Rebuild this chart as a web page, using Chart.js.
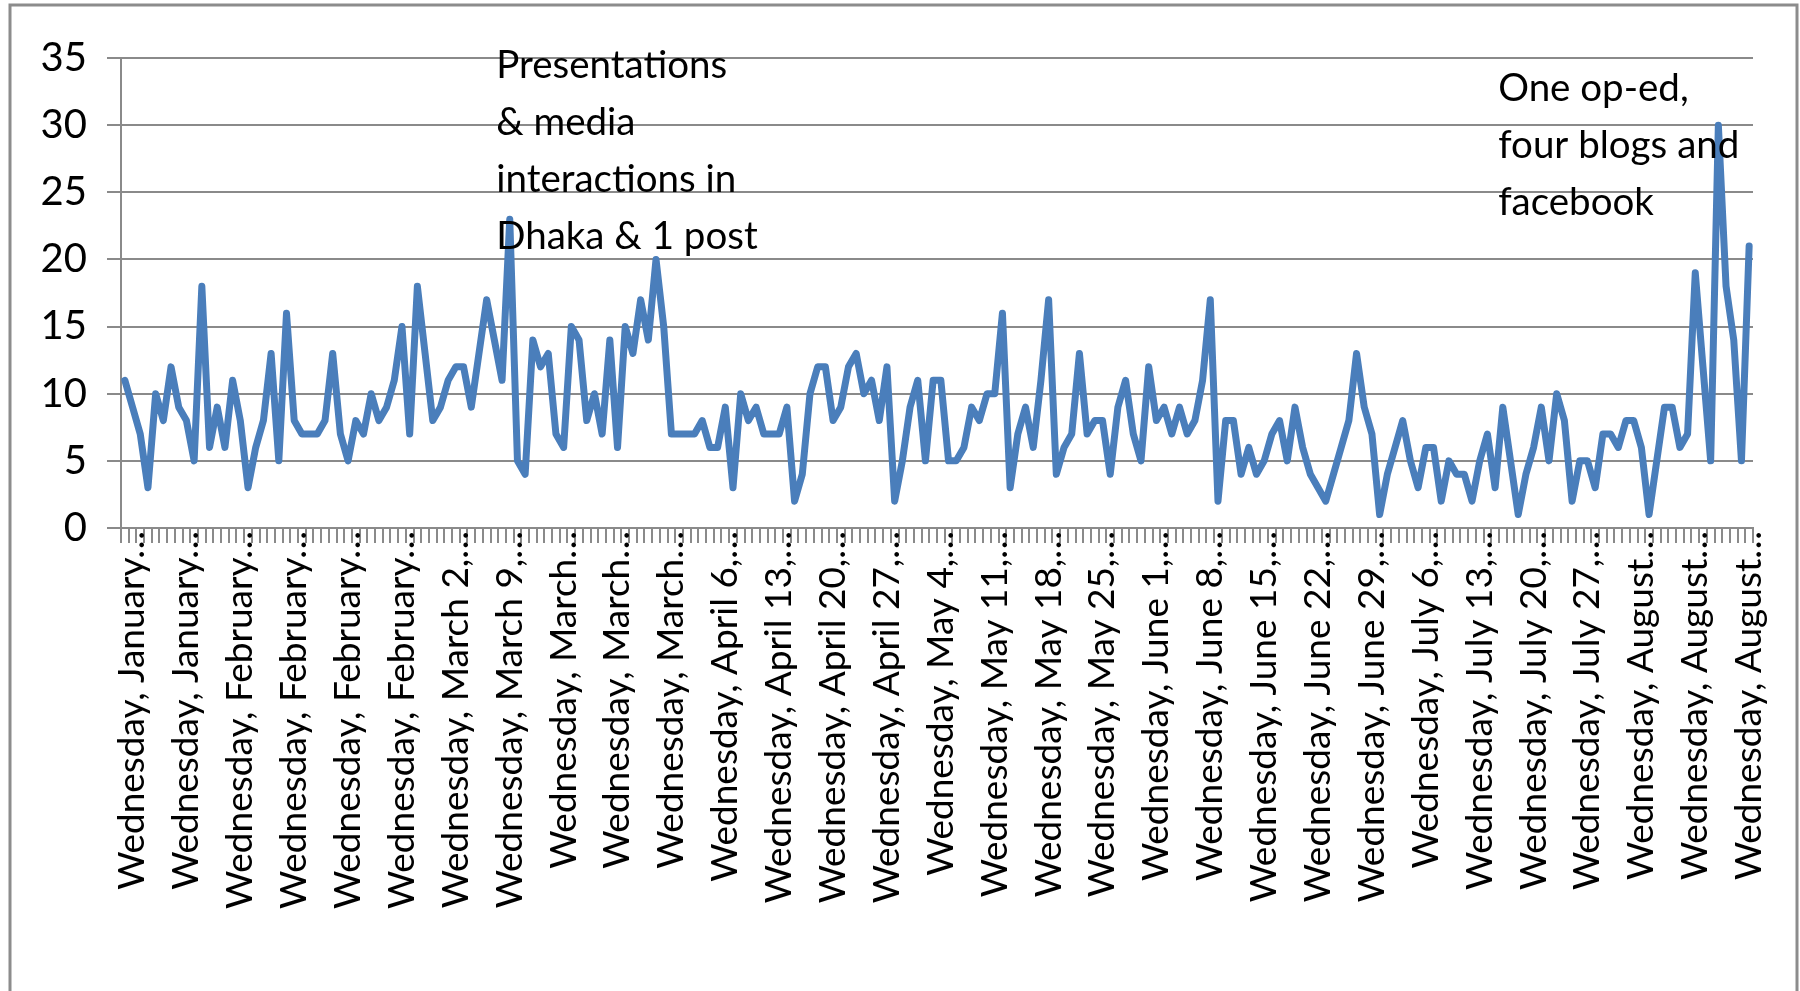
<!DOCTYPE html>
<html>
<head>
<meta charset="utf-8">
<script src="https://cdn.jsdelivr.net/npm/chart.js@4/dist/chart.umd.min.js"></script>
<style>
  html, body { margin: 0; padding: 0; background: #fff; }
  canvas { display: block; }
</style>
</head>
<body>
<canvas id="mentionsChart" width="1800" height="991"></canvas>
<script>
// one point per day, Tuesday 18 Jan 2011 .. Wednesday 17 Aug 2011
const startDay = new Date(2011, 0, 18);
const mentions = [
  11, 9, 7, 3, 10, 8, 12, 9, 8, 5,
  18, 6, 9, 6, 11, 8, 3, 6, 8, 13,
  5, 16, 8, 7, 7, 7, 8, 13, 7, 5,
  8, 7, 10, 8, 9, 11, 15, 7, 18, 13,
  8, 9, 11, 12, 12, 9, 13, 17, 14, 11,
  23, 5, 4, 14, 12, 13, 7, 6, 15, 14,
  8, 10, 7, 14, 6, 15, 13, 17, 14, 20,
  15, 7, 7, 7, 7, 8, 6, 6, 9, 3,
  10, 8, 9, 7, 7, 7, 9, 2, 4, 10,
  12, 12, 8, 9, 12, 13, 10, 11, 8, 12,
  2, 5, 9, 11, 5, 11, 11, 5, 5, 6,
  9, 8, 10, 10, 16, 3, 7, 9, 6, 11,
  17, 4, 6, 7, 13, 7, 8, 8, 4, 9,
  11, 7, 5, 12, 8, 9, 7, 9, 7, 8,
  11, 17, 2, 8, 8, 4, 6, 4, 5, 7,
  8, 5, 9, 6, 4, 3, 2, 4, 6, 8,
  13, 9, 7, 1, 4, 6, 8, 5, 3, 6,
  6, 2, 5, 4, 4, 2, 5, 7, 3, 9,
  5, 1, 4, 6, 9, 5, 10, 8, 2, 5,
  5, 3, 7, 7, 6, 8, 8, 6, 1, 5,
  9, 9, 6, 7, 19, 12, 5, 30, 18, 14,
  5, 21
];

// labels as Excel cut them, one every Wednesday
const weekLabels = [
  'Wednesday, January…', 'Wednesday, January…',
  'Wednesday, February…', 'Wednesday, February…', 'Wednesday, February…', 'Wednesday, February…',
  'Wednesday, March 2,…', 'Wednesday, March 9,…', 'Wednesday, March…', 'Wednesday, March…', 'Wednesday, March…',
  'Wednesday, April 6,…', 'Wednesday, April 13,…', 'Wednesday, April 20,…', 'Wednesday, April 27,…',
  'Wednesday, May 4,…', 'Wednesday, May 11,…', 'Wednesday, May 18,…', 'Wednesday, May 25,…',
  'Wednesday, June 1,…', 'Wednesday, June 8,…', 'Wednesday, June 15,…', 'Wednesday, June 22,…', 'Wednesday, June 29,…',
  'Wednesday, July 6,…', 'Wednesday, July 13,…', 'Wednesday, July 20,…', 'Wednesday, July 27,…',
  'Wednesday, August…', 'Wednesday, August…', 'Wednesday, August…'
];
const yTicks = [0, 5, 10, 15, 20, 25, 30, 35];

const noteDhaka = ['Presentations', '& media', 'interactions in', 'Dhaka & 1 post'];
const noteOped = ['One op-ed,', 'four blogs and', 'facebook'];

const days = mentions.map((_, i) => {
  const d = new Date(startDay);
  d.setDate(d.getDate() + i);
  return d.toLocaleDateString('en-US', { weekday: 'long', year: 'numeric', month: 'long', day: 'numeric' });
});

const gridGrey = '#8a8a8a';

const frame = {
  id: 'frame',
  beforeDraw(chart) {
    const ctx = chart.ctx;
    ctx.save();
    ctx.fillStyle = '#fff';
    ctx.fillRect(0, 0, chart.width, chart.height);
    ctx.strokeStyle = '#8c8c8c';
    ctx.lineWidth = 3;
    ctx.strokeRect(10, 5, chart.width - 13, chart.height + 20);
    ctx.restore();
  }
};

const notes = {
  id: 'notes',
  afterDatasetsDraw(chart) {
    const { ctx, scales: { x, y } } = chart;
    const place = [
      { lines: noteDhaka, at: 48.25, top: 33.5 },
      { lines: noteOped, at: 178.4, top: 31.8 }
    ];
    ctx.save();
    ctx.font = '38.5px Lato';
    ctx.fillStyle = '#000';
    ctx.textBaseline = 'alphabetic';
    place.forEach(n => {
      const left = x.getPixelForValue(n.at);
      const base = y.getPixelForValue(n.top);
      n.lines.forEach((t, k) => ctx.fillText(t, left, base + k * 57));
    });
    ctx.restore();
  }
};

new Chart(document.getElementById('mentionsChart'), {
  type: 'line',
  data: {
    labels: days,
    datasets: [{
      data: mentions,
      borderColor: '#4a7ebb',
      borderWidth: 7,
      borderJoinStyle: 'round',
      borderCapStyle: 'round',
      pointRadius: 0,
      tension: 0,
      fill: false
    }]
  },
  options: {
    responsive: false,
    animation: false,
    layout: { padding: { top: 58, left: 0, right: 47, bottom: 0 } },
    plugins: { legend: { display: false }, tooltip: { enabled: false } },
    scales: {
      x: {
        offset: true,
        grid: { offset: true, drawOnChartArea: false, drawTicks: true, tickLength: 15, color: gridGrey, lineWidth: 2 },
        border: { display: true, color: gridGrey, width: 2 },
        ticks: {
          autoSkip: false,
          minRotation: 90,
          maxRotation: 90,
          padding: -12,
          color: '#000',
          font: { family: 'Lato', size: 37 },
          callback: (v, i) => (i % 7 === 1 ? weekLabels[(i - 1) / 7] : '')
        },
        afterFit: s => { s.height = 463; }
      },
      y: {
        min: yTicks[0],
        max: yTicks[yTicks.length - 1],
        afterBuildTicks: s => { s.ticks = yTicks.map(v => ({ value: v })); },
        grid: { color: gridGrey, lineWidth: 2, tickLength: 14 },
        border: { display: true, color: gridGrey, width: 2 },
        ticks: { padding: 20, color: '#000', font: { family: 'Lato', size: 40 } },
        afterFit: s => { s.width = 121; }
      }
    }
  },
  plugins: [frame, notes]
});
</script>
</body>
</html>
